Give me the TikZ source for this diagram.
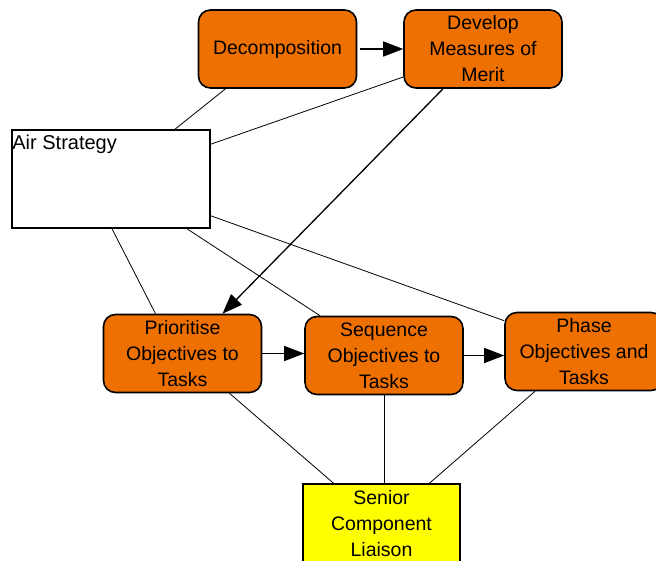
\documentclass[tikz,border=0pt]{standalone}
\usepackage{fontspec}
\setmainfont{Liberation Sans}
\usepackage{xcolor}
\usepackage{tikz}
\usetikzlibrary{arrows.meta, calc}
\definecolor{taskorange}{RGB}{238,112,0}
\definecolor{liaisonyellow}{RGB}{255,255,0}
\tikzset{
  task/.style={draw=black, line width=1.6pt, fill=taskorange, rounded corners=12pt,
    minimum width=158pt, minimum height=78pt, align=center, inner sep=2pt,
    font=\fontsize{19.5}{26}\selectfont},
  strategy/.style={draw=black, line width=1.6pt, fill=white,
    minimum width=198pt, minimum height=98pt},
  liaison/.style={draw=black, line width=1.6pt, fill=liaisonyellow,
    minimum width=157pt, minimum height=80pt, align=center,
    font=\fontsize{19.5}{26}\selectfont},
  link/.style={draw=black, line width=0.8pt},
  flow/.style={draw=black, line width=1.3pt, -{Triangle[length=20pt, width=15pt]}}
}

\begin{document}
\begin{tikzpicture}[x=1pt, y=-1pt]

	\useasboundingbox (0,0) rectangle (656,561);

	% top row
	\node[task] (dec) at (277.5,49) {Decomposition};
	\node[task] (dev) at (483,49) {Develop\\Measures of\\Merit};

	% strategy box
	\node[strategy] (air) at (111,179) {};
	\node[anchor=north west, inner sep=0pt, font=\fontsize{20}{24}\selectfont]
		(airtext) at ($ (air.north west)+(1,6) $) {Air Strategy};

	% task row
	\node[task] (pri) at (182.5,353.5) {Prioritise\\Objectives to\\Tasks};
	\node[task] (seq) at (384,355.5) {Sequence\\Objectives to\\Tasks};
	\node[task] (pha) at (584,351.5) {Phase\\Objectives and\\Tasks};

	\node[liaison] (sen) at (381.5,524) {Senior\\Component\\Liaison};

	% plain links
	\draw[link] ([xshift=-52pt]dec.south) -- ([xshift=64pt]air.north);
	\draw[link] ([yshift=-28pt]dev.west) -- ([yshift=-15pt]air.north east);
	\draw[link] ([xshift=1pt]air.south) -- ([xshift=-27pt]pri.north);
	\draw[link] ([xshift=76pt]air.south) -- ([xshift=-64pt]seq.north);
	\draw[link] ([yshift=13pt]air.south east) -- ([yshift=-9pt]pha.north west);
	\draw[link] ([xshift=47pt]pri.south) -- ([xshift=-48pt]sen.north);
	\draw[link] (seq.south) -- (seq.south |- sen.north);
	\draw[link] ([xshift=-49pt]pha.south) -- ([xshift=48pt]sen.north);

	% arrows
	\draw[flow] ([xshift=3pt]dec.east) -- (dec.east -| dev.west);
	\draw[flow] ([xshift=-40pt]dev.south) -- ([xshift=40pt]pri.north);
	\draw[flow] (pri.east) -- (pri.east -| seq.west);
	\draw[flow] (seq.east) -- (seq.east -| pha.west);

\end{tikzpicture}
\end{document}
